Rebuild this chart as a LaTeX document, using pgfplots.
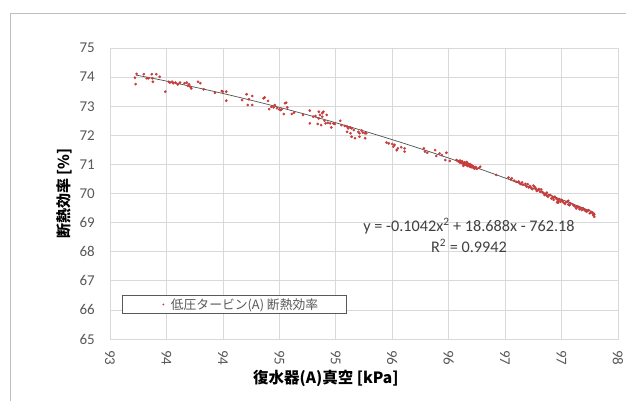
\documentclass[border=0pt]{standalone}
\usepackage{pgfplots}
\pgfplotsset{compat=1.18}
\usepackage{fontspec}
\setmainfont{Carlito}
\newfontfamily\jp{Noto Sans CJK JP}
\definecolor{mred}{RGB}{200,60,60}
\definecolor{gridc}{RGB}{217,217,217}
\definecolor{tickc}{RGB}{89,89,89}
\definecolor{eqc}{RGB}{64,64,64}
\definecolor{trendc}{RGB}{80,80,80}
\definecolor{borderc}{RGB}{191,191,191}
\begin{document}
\begin{tikzpicture}
\useasboundingbox (0pt,0pt) rectangle (626pt,400pt);
\fill[white] (0pt,0pt) rectangle (626pt,400pt);
\draw[borderc, line width=0.8pt] (10.5pt,-10pt) -- (10.5pt,387pt) -- (640pt,387pt);
\begin{axis}[
  at={(110pt,61pt)}, anchor=south west,
  scale only axis, width=508pt, height=291pt,
  xmin=93, xmax=97.5, ymin=65, ymax=75,
  xtick={93,93.5,94,94.5,95,95.5,96,96.5,97,97.5},
  xticklabels={93,94,94,95,95,96,96,97,97,98},
  ytick={65,66,67,68,69,70,71,72,73,74,75},
  grid=major, grid style={gridc, line width=0.75pt},
  axis line style={gridc, line width=0.75pt},
  major tick length=0pt,
  tick label style={font=\fontsize{15}{18}\selectfont, text=tickc},
  /pgf/number format/assume math mode=true,
  x tick label style={rotate=-90, anchor=west, inner sep=0pt},
  xticklabel shift=11pt,
  y tick label style={anchor=east, inner sep=0pt},
  yticklabel shift=15pt,
  xlabel={\jp\bfseries 復水器(A)真空 [kPa]},
  xlabel style={at={(axis description cs:0.425,-0.134)}, anchor=center, font=\fontsize{15.5}{18}\selectfont, text=black},
  ylabel={\jp\bfseries 断熱効率 [\%]},
  ylabel style={at={(axis description cs:-0.0906,0.5)}, anchor=center, font=\fontsize{15}{18}\selectfont, text=black},
  legend style={at={(0.0236,0.1512)}, anchor=north west, draw=tickc, line width=0.75pt, fill=white,
    inner xsep=0pt, inner ysep=1pt, font=\jp\fontsize{12.8}{14}\selectfont, text=tickc},
  legend cell align=left,
  legend image code/.code={\path[draw=none,fill=none] (0pt,-1pt) rectangle (46.5pt,1pt); \fill[mred,draw=none] (41pt,0pt) circle (1.1pt);},
]
\addplot[only marks, mark=*, mark size=1.15pt, color=mred, mark options={draw=mred, fill=mred}] table {
x y
93.221 73.98
93.236 74.11
93.227 73.76
93.30 74.10
93.325 73.96
93.34 73.96
93.37 74.10
93.38 73.84
93.375 73.96
93.41 74.10
93.44 74.01
93.49 73.50
93.52 73.84
93.53 73.81
93.55 73.84
93.56 73.79
93.58 73.81
93.60 73.75
93.62 73.81
93.66 73.79
93.68 73.81
93.69 73.70
93.70 73.75
93.71 73.67
93.72 73.61
93.78 73.84
93.80 73.79
93.83 73.58
93.93 73.46
93.99 73.52
94.00 73.50
94.03 73.50
94.03 73.19
94.17 73.21
94.21 73.41
94.22 73.04
94.23 73.24
94.26 73.35
94.26 73.04
94.36 73.27
94.37 73.30
94.40 73.18
94.41 72.90
94.43 72.98
94.45 72.96
94.46 73.04
94.48 72.93
94.50 72.89
94.51 72.87
94.52 72.89
94.54 72.73
94.55 73.10
94.56 73.12
94.57 72.96
94.61 72.73
94.63 72.78
94.71 72.70
94.77 72.41
94.77 72.85
94.80 72.64
94.82 72.66
94.84 72.39
94.85 72.81
94.85 72.58
94.86 72.70
94.88 72.76
94.88 72.64
94.89 72.81
94.90 72.50
94.92 72.70
94.91 72.41
94.87 72.35
94.93 72.43
94.95 72.41
94.96 72.27
94.98 72.41
94.99 72.39
95.04 72.50
95.05 72.35
95.08 72.32
95.10 72.30
95.11 72.24
95.13 72.27
95.14 72.24
95.16 72.18
95.10 72.12
95.13 72.07
95.14 71.95
95.17 71.90
95.20 72.12
95.21 72.07
95.23 72.16
95.24 72.09
95.26 72.07
95.27 72.07
95.21 71.95
95.26 71.90
95.45 71.75
95.47 71.72
95.50 71.70
95.51 71.61
95.52 71.67
95.54 71.49
95.55 71.55
95.58 71.59
95.61 71.55
95.61 71.44
95.78 71.55
95.79 71.44
95.81 71.40
95.88 71.49
95.89 71.29
95.92 71.38
95.94 71.32
95.97 71.15
95.98 71.40
96.01 71.12
96.07 71.15
96.08 71.12
96.09 71.10
96.10 71.13
96.10 71.06
96.11 71.08
96.12 71.04
96.12 71.11
96.13 71.02
96.14 71.07
96.14 70.99
96.15 71.05
96.15 71.00
96.16 70.97
96.17 71.03
96.17 70.94
96.18 71.00
96.18 70.96
96.19 70.92
96.20 70.98
96.20 70.90
96.21 70.95
96.22 70.88
96.22 70.93
96.23 70.86
96.24 70.91
96.25 70.85
96.13 70.95
96.16 71.08
96.19 71.01
96.27 70.88
96.28 70.92
96.42 70.64
96.53 70.55
96.55 70.49
96.56 70.52
96.58 70.44
96.60 70.40
96.62 70.41
96.63 70.35
96.64 70.32
96.65 70.38
96.66 70.30
96.68 70.33
96.69 70.24
96.70 70.32
96.71 70.21
96.72 70.26
96.73 70.20
96.74 70.15
96.75 70.27
96.76 70.23
96.77 70.18
96.78 70.09
96.79 70.12
96.80 70.15
96.81 70.06
96.82 70.14
96.83 70.05
96.84 70.01
96.85 69.95
96.86 69.98
96.87 70.03
96.87 69.92
96.88 69.89
96.89 69.94
96.90 69.95
96.91 69.83
96.92 69.88
96.93 69.78
96.93 69.86
96.94 69.89
96.95 69.84
96.96 69.80
96.96 69.70
96.97 69.75
96.97 69.68
96.98 69.80
96.99 69.72
97.00 69.78
97.01 69.73
97.02 69.68
97.03 69.64
97.04 69.70
97.05 69.72
97.06 69.75
97.06 69.62
97.07 69.60
97.08 69.66
97.10 69.62
97.11 69.58
97.12 69.55
97.13 69.49
97.14 69.56
97.15 69.53
97.16 69.46
97.17 69.50
97.18 69.43
97.19 69.49
97.20 69.45
97.21 69.41
97.22 69.38
97.23 69.40
97.24 69.43
97.25 69.32
97.26 69.37
97.27 69.34
97.28 69.26
97.28 69.31
97.29 69.20
97.29 69.28
};
\addlegendentry{低圧タービン(A) 断熱効率\hspace*{26pt}}
\addplot[no marks, smooth, line width=0.7pt, color=trendc, forget plot] coordinates {
(93.23,74.07) (93.5,73.863) (94,73.438) (94.5,72.961) (95,72.432)
(95.5,71.851) (96,71.218) (96.5,70.533) (97,69.795) (97.29,69.344)
};
\node[text=eqc, font=\fontsize{16.2}{18}\selectfont] at (axis cs:96.18,68.88) {y = -0.1042x\textsuperscript{2} + 18.688x - 762.18};
\node[text=eqc, font=\fontsize{16.2}{18}\selectfont] at (axis cs:96.18,68.20) {R\textsuperscript{2} = 0.9942};
\end{axis}
\end{tikzpicture}
\end{document}
